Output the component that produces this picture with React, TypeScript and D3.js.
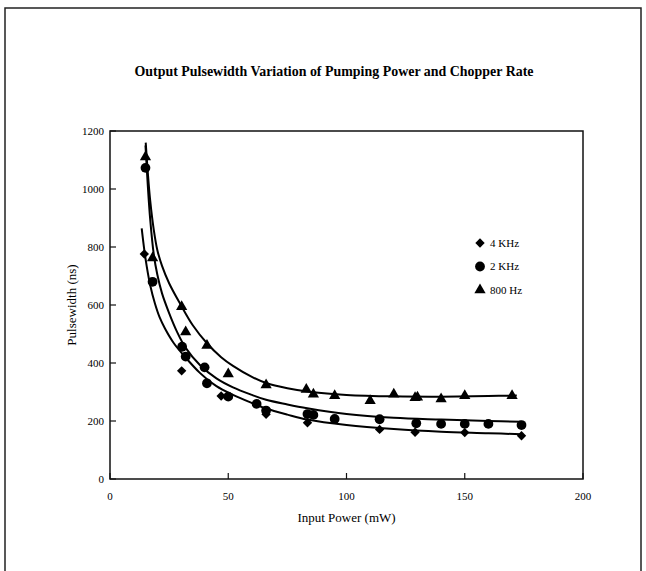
import React, { useRef, useEffect } from 'react';
import * as d3 from 'd3';

const seriesNames = ['4 KHz', '2 KHz', '800 Hz'];
const power4k = [14.5, 30.3, 47, 66, 83.5, 114, 129, 150, 174];
const width4k = [776, 373, 286, 223, 194, 171, 161, 160, 149];
const power2k = [15, 18, 30.5, 32, 40, 41, 50, 62, 66, 83.5, 86, 95, 114, 129.5, 140, 150, 160, 174];
const width2k = [1073, 680, 456, 422, 385, 330, 284, 259, 236, 224, 221, 207, 206, 192, 190, 190, 190, 186];
const power800 = [15, 18, 30.3, 32, 41, 50, 66, 83, 86, 95, 110, 120, 129, 130, 140, 150, 170];
const width800 = [1110, 762, 594, 507, 460, 362, 324, 309, 292, 287, 270, 292, 280, 282, 276, 287, 287];

// hand drawn trend lines, also
const trendX4k = [13.4, 14.5, 15.5, 17, 19, 21, 23.3, 27, 31, 38, 45, 52, 60, 66, 75, 83.4, 100, 120, 140, 160, 174];
const trendY4k = [864, 790, 735, 668, 605, 557, 518, 468, 428, 366, 320, 290, 262, 243, 222, 205, 186, 172, 163, 158, 154];
const trendX2k = [15, 16, 17, 18.5, 20, 22, 25, 28.2, 32, 38, 45, 52, 60, 66, 75, 83.4, 100, 120, 140, 160, 174];
const trendY2k = [1150, 1010, 895, 775, 705, 640, 572, 510, 452, 393, 347, 316, 290, 273, 257, 244, 224, 211, 205, 200, 197];
const trendX800 = [15.1, 16, 17, 18.5, 20, 22, 25, 29.6, 35, 41, 47, 52, 60, 66, 75, 85, 100, 120, 140, 160, 172];
const trendY800 = [1160, 1055, 960, 860, 790, 735, 675, 605, 530, 468, 420, 390, 352, 331, 313, 300, 290, 285, 284, 286, 288];

const xTicks = [0, 50, 100, 150, 200];
const yTicks = [0, 200, 400, 600, 800, 1000, 1200];

const serif = '"Liberation Serif", "Times New Roman", serif';

const App = () => {
  const chartRef = useRef<SVGSVGElement>(null);

  useEffect(() => {
    const svg = d3.select(chartRef.current);
    svg.selectAll('*').remove();

    const left = 110, right = 583, top = 131, bottom = 479;
    const xScale = d3.scaleLinear().domain([0, 200]).range([left, right]);
    const yScale = d3.scaleLinear().domain([0, 1200]).range([bottom, top]);

    // page frame
    svg.append('path')
      .attr('d', `M5,571 L5,8 L641,8 L641,571`)
      .attr('fill', 'none')
      .attr('stroke', '#222')
      .attr('stroke-width', 1.5);

    svg.append('text')
      .attr('x', 334)
      .attr('y', 76)
      .attr('text-anchor', 'middle')
      .attr('textLength', 399)
      .attr('lengthAdjust', 'spacingAndGlyphs')
      .style('font-family', serif)
      .style('font-weight', 'bold')
      .style('font-size', '15px')
      .text('Output Pulsewidth Variation of Pumping Power and Chopper Rate');

    // plot box
    svg.append('rect')
      .attr('x', left)
      .attr('y', top)
      .attr('width', right - left)
      .attr('height', bottom - top)
      .attr('fill', 'none')
      .attr('stroke', '#111')
      .attr('stroke-width', 1.5);

    svg.selectAll('.ytick')
      .data(yTicks)
      .enter()
      .append('line')
      .attr('x1', left)
      .attr('x2', left + 6)
      .attr('y1', d => yScale(d))
      .attr('y2', d => yScale(d))
      .attr('stroke', '#111')
      .attr('stroke-width', 1.2);

    svg.selectAll('.ylabel')
      .data(yTicks)
      .enter()
      .append('text')
      .attr('x', left - 6)
      .attr('y', d => yScale(d))
      .attr('dy', '0.35em')
      .attr('text-anchor', 'end')
      .style('font-family', serif)
      .style('font-size', '11px')
      .text(d => d);

    svg.selectAll('.xtick')
      .data(xTicks)
      .enter()
      .append('line')
      .attr('x1', d => xScale(d))
      .attr('x2', d => xScale(d))
      .attr('y1', bottom)
      .attr('y2', bottom - 6)
      .attr('stroke', '#111')
      .attr('stroke-width', 1.2);

    svg.selectAll('.xlabel')
      .data(xTicks)
      .enter()
      .append('text')
      .attr('x', d => xScale(d))
      .attr('y', bottom + 21)
      .attr('text-anchor', 'middle')
      .style('font-family', serif)
      .style('font-size', '11px')
      .text(d => d);

    svg.append('text')
      .attr('x', (left + right) / 2)
      .attr('y', 522)
      .attr('text-anchor', 'middle')
      .style('font-family', serif)
      .style('font-size', '13px')
      .text('Input Power (mW)');

    svg.append('text')
      .attr('transform', `translate(76, ${(top + bottom) / 2}) rotate(-90)`)
      .attr('text-anchor', 'middle')
      .style('font-family', serif)
      .style('font-size', '13px')
      .text('Pulsewidth (ns)');

    // squarer diamond than symbolDiamond, like the scan
    const diamond = (d3 as any).symbolDiamond2 || d3.symbolDiamond;

    const series = [
      { name: seriesNames[0], xs: power4k, ys: width4k, tx: trendX4k, ty: trendY4k, symbol: diamond, size: 56 },
      { name: seriesNames[1], xs: power2k, ys: width2k, tx: trendX2k, ty: trendY2k, symbol: d3.symbolCircle, size: 75 },
      { name: seriesNames[2], xs: power800, ys: width800, tx: trendX800, ty: trendY800, symbol: d3.symbolTriangle, size: 55 },
    ];

    const line = d3.line<[number, number]>()
      .x(d => xScale(d[0]))
      .y(d => yScale(d[1]))
      .curve(d3.curveCatmullRom.alpha(0.5));

    series.forEach((s, si) => {
      svg.append('path')
        .attr('d', line(s.tx.map((x, i) => [x, s.ty[i]] as [number, number])))
        .attr('fill', 'none')
        .attr('stroke', '#000')
        .attr('stroke-width', 2);

      const sym = d3.symbol().type(s.symbol).size(s.size);
      svg.selectAll(`.pt${si}`)
        .data(s.xs.map((x, i) => [x, s.ys[i]]))
        .enter()
        .append('path')
        .attr('transform', d => `translate(${xScale(d[0])},${yScale(d[1])})`)
        .attr('d', sym())
        .attr('fill', '#000');

      // legend
      const ly = 243 + si * 23.5;
      svg.append('path')
        .attr('transform', `translate(480,${ly})`)
        .attr('d', sym())
        .attr('fill', '#000');
      svg.append('text')
        .attr('x', 490)
        .attr('y', ly)
        .attr('dy', '0.35em')
        .style('font-family', serif)
        .style('font-size', '11px')
        .text(s.name);
    });
  }, []);

  return (
    <svg ref={chartRef} width={646} height={571}
      style={{ position: 'absolute', left: 0, top: 0, background: '#fff' }} />
  );
};

export default App;
